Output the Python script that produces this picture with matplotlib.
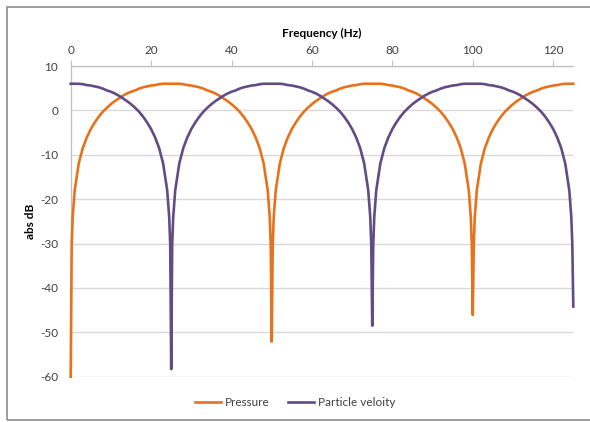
import matplotlib
matplotlib.use("Agg")
import matplotlib.pyplot as plt
from matplotlib.patches import Rectangle

plt.rcParams['font.family'] = ['Lato', 'DejaVu Sans']
plt.rcParams['axes.unicode_minus'] = False

# frequency grid (Hz), shared by both series
freq = [
    0, 0.25, 0.5, 1, 2, 3, 4, 5, 6, 7, 8, 9, 10, 11, 12, 13, 14, 15, 16,
    17, 18, 19, 20, 21, 22, 23, 24, 24.5, 24.75,
    25, 25.25, 25.5, 26, 27, 28, 29, 30, 31, 32, 33, 34, 35, 36, 37, 38,
    39, 40, 41, 42, 43, 44, 45, 46, 47, 48, 49, 49.5, 49.75,
    50, 50.25, 50.5, 51, 52, 53, 54, 55, 56, 57, 58, 59, 60, 61, 62, 63,
    64, 65, 66, 67, 68, 69, 70, 71, 72, 73, 74, 74.5, 74.75,
    75, 75.25, 75.5, 76, 77, 78, 79, 80, 81, 82, 83, 84, 85, 86, 87, 88,
    89, 90, 91, 92, 93, 94, 95, 96, 97, 98, 99, 99.5, 99.75,
    100, 100.25, 100.5, 101, 102, 103, 104, 105, 106, 107, 108, 109, 110,
    111, 112, 113, 114, 115, 116, 117, 118, 119, 120, 121, 122, 123, 124,
    124.5, 124.75,
    125,
]

# pressure, abs dB
pressure = [
    -60.0, -30.1, -24.0, -18.0, -12.0, -8.5, -6.1, -4.2, -2.7, -1.4, -0.3,
    0.6, 1.4, 2.1, 2.7, 3.3, 3.8, 4.2, 4.5, 4.9, 5.2, 5.4, 5.6, 5.7, 5.9,
    6.0, 6.0, 6.0, 6.0,
    6.0, 6.0, 6.0, 6.0, 6.0, 5.9, 5.7, 5.6, 5.4, 5.2, 4.9, 4.5, 4.2, 3.8,
    3.3, 2.7, 2.1, 1.4, 0.6, -0.3, -1.4, -2.7, -4.2, -6.1, -8.5, -12.0,
    -18.0, -24.0, -30.1,
    -52.1, -30.1, -24.0, -18.0, -12.0, -8.5, -6.1, -4.2, -2.7, -1.4, -0.3,
    0.6, 1.4, 2.1, 2.7, 3.3, 3.8, 4.2, 4.5, 4.9, 5.2, 5.4, 5.6, 5.7, 5.9,
    6.0, 6.0, 6.0, 6.0,
    6.0, 6.0, 6.0, 6.0, 6.0, 5.9, 5.7, 5.6, 5.4, 5.2, 4.9, 4.5, 4.2, 3.8,
    3.3, 2.7, 2.1, 1.4, 0.6, -0.3, -1.4, -2.7, -4.2, -6.1, -8.5, -12.0,
    -18.0, -24.0, -30.1,
    -46.1, -30.1, -24.0, -18.0, -12.0, -8.5, -6.1, -4.2, -2.7, -1.4, -0.3,
    0.6, 1.4, 2.1, 2.7, 3.3, 3.8, 4.2, 4.5, 4.9, 5.2, 5.4, 5.6, 5.7, 5.9,
    6.0, 6.0, 6.0, 6.0,
    6.0,
]

# particle velocity, abs dB
velocity = [
    6.0, 6.0, 6.0, 6.0, 6.0, 5.9, 5.7, 5.6, 5.4, 5.2, 4.9, 4.5, 4.2, 3.8,
    3.3, 2.7, 2.1, 1.4, 0.6, -0.3, -1.4, -2.7, -4.2, -6.1, -8.5, -12.0,
    -18.0, -24.0, -30.1,
    -58.3, -30.1, -24.0, -18.0, -12.0, -8.5, -6.1, -4.2, -2.7, -1.4, -0.3,
    0.6, 1.4, 2.1, 2.7, 3.3, 3.8, 4.2, 4.5, 4.9, 5.2, 5.4, 5.6, 5.7, 5.9,
    6.0, 6.0, 6.0, 6.0,
    6.0, 6.0, 6.0, 6.0, 6.0, 5.9, 5.7, 5.6, 5.4, 5.2, 4.9, 4.5, 4.2, 3.8,
    3.3, 2.7, 2.1, 1.4, 0.6, -0.3, -1.4, -2.7, -4.2, -6.1, -8.5, -12.0,
    -18.0, -24.0, -30.1,
    -48.5, -30.1, -24.0, -18.0, -12.0, -8.5, -6.1, -4.2, -2.7, -1.4, -0.3,
    0.6, 1.4, 2.1, 2.7, 3.3, 3.8, 4.2, 4.5, 4.9, 5.2, 5.4, 5.6, 5.7, 5.9,
    6.0, 6.0, 6.0, 6.0,
    6.0, 6.0, 6.0, 6.0, 6.0, 5.9, 5.7, 5.6, 5.4, 5.2, 4.9, 4.5, 4.2, 3.8,
    3.3, 2.7, 2.1, 1.4, 0.6, -0.3, -1.4, -2.7, -4.2, -6.1, -8.5, -12.0,
    -18.0, -24.0, -30.1,
    -44.2,
]

x_ticks = [0, 20, 40, 60, 80, 100, 120]
y_ticks = [-60, -50, -40, -30, -20, -10, 0, 10]

text_col = '#404040'
grid_col = '#d9d9d9'

fig = plt.figure(figsize=(5.9, 4.22), dpi=100)
ax = fig.add_axes([0.1198, 0.1074, 0.8519, 0.7362])

ax.plot(freq, pressure, color='#e8721c', lw=1.9, label='Pressure',
        clip_on=False, zorder=3)
ax.plot(freq, velocity, color='#634b86', lw=1.9, label='Particle veloity',
        clip_on=False, zorder=3)

ax.set_xlim(0, 125)
ax.set_ylim(-60, 10)
ax.set_xticks(x_ticks)
ax.set_yticks(y_ticks)
ax.xaxis.tick_top()
ax.xaxis.set_label_position('top')
ax.tick_params(axis='x', direction='out', length=4, width=0.8,
               color='#bfbfbf', labelsize=8.5, labelcolor=text_col, pad=3)
ax.tick_params(axis='y', length=0, labelsize=8.5, labelcolor=text_col, pad=9)
ax.grid(axis='y', color=grid_col, lw=1)
ax.set_axisbelow(True)
for side in ['right', 'bottom']:
    ax.spines[side].set_visible(False)
for side in ['top', 'left']:
    ax.spines[side].set_color('#bfbfbf')
    ax.spines[side].set_linewidth(0.9)
    ax.spines[side].set_zorder(1)

ax.set_xlabel('Frequency (Hz)', fontsize=8.5, fontweight='bold',
              color='black', labelpad=6)
ax.set_ylabel('abs dB', fontsize=8.5, fontweight='bold', color='black',
              labelpad=3)

ax.legend(loc='center', bbox_to_anchor=(0.5, 1 - 403 / 422),
          bbox_transform=fig.transFigure, ncol=2, frameon=False,
          fontsize=8.5, handlelength=2.2, handletextpad=0.3,
          columnspacing=1.6, labelcolor=text_col)

# chart area border
fig.patches.append(Rectangle((7 / 590, 1 - 420 / 422), 1.0, (413) / 422,
                             transform=fig.transFigure, fill=False,
                             edgecolor='#8c8c8c', lw=1.2))

fig.savefig('out.png', dpi=100)
